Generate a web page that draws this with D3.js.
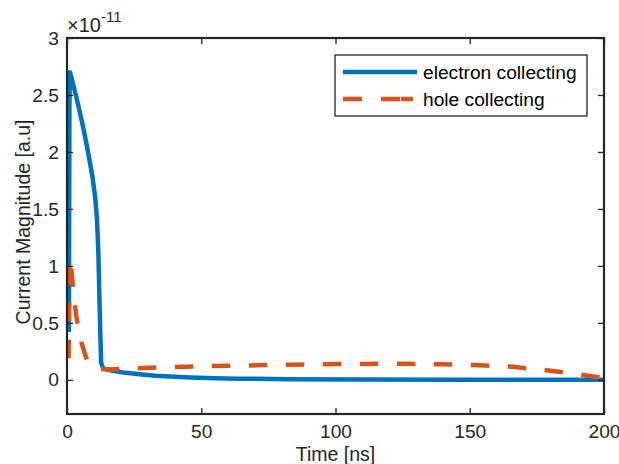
<!DOCTYPE html>
<html>
<head>
<meta charset="utf-8">
<script src="https://cdn.jsdelivr.net/npm/d3@7"></script>
<style>
  html, body { margin: 0; padding: 0; background: #fff; }
  svg { display: block; font-family: "Liberation Sans", Arial, Helvetica, sans-serif; }
</style>
</head>
<body>
<svg id="chart" width="619" height="464"></svg>
<script>
// Transient current (units of 1e-11 a.u.) versus time in ns
const electronTime = [0.7, 0.9, 1.1, 2, 4, 6, 8, 9.5, 10.5, 11.2, 11.7, 12.2, 12.7, 13.5, 17, 21, 27, 33, 40, 46, 55, 64, 83, 110, 150, 200];
const electronCurrent = [0.42, 2.4, 2.7, 2.62, 2.43, 2.22, 1.98, 1.78, 1.6, 1.4, 1.1, 0.6, 0.15, 0.1, 0.08, 0.064, 0.048, 0.035, 0.026, 0.02, 0.014, 0.01, 0.005, 0.002, 0.001, 0.0];

const holeTime = [0.6, 0.9, 1.3, 1.8, 2.5, 3.4, 4.5, 5.5, 6.5, 7.5, 8.5, 9.5, 12, 16, 24, 35, 52, 68, 82, 100, 115, 127, 140, 152, 166, 180, 190, 200];
const holeCurrent = [0.19, 1.0, 1.07, 0.92, 0.74, 0.57, 0.41, 0.32, 0.24, 0.17, 0.13, 0.11, 0.095, 0.09, 0.1, 0.11, 0.12, 0.126, 0.133, 0.138, 0.14, 0.14, 0.136, 0.13, 0.115, 0.08, 0.05, 0.015];

const seriesNames = ["electron collecting", "hole collecting"];
const xTicks = [0, 50, 100, 150, 200];
const yTicks = [0, 0.5, 1, 1.5, 2, 2.5, 3];
const xDomain = [0, 200];
const yDomain = [-0.3, 3];

const ink = "#262626";
const blue = "#0072BD";
const orange = "#D95319";

const svg = d3.select("#chart");
const L = 67, R = 604, T = 38, B = 414;

const x = d3.scaleLinear().domain(xDomain).range([L, R]);
const y = d3.scaleLinear().domain(yDomain).range([B, T]);

svg.append("defs").append("clipPath").attr("id", "plotArea")
  .append("rect").attr("x", L).attr("y", T).attr("width", R - L).attr("height", B - T);

// Curves
const line = d3.line().x(d => x(d[0])).y(d => y(d[1]));
const electron = electronTime.map((t, i) => [t, electronCurrent[i]]);
const hole = holeTime.map((t, i) => [t, holeCurrent[i]]);

const plot = svg.append("g").attr("clip-path", "url(#plotArea)");
plot.append("path").datum(electron)
  .attr("d", line).attr("fill", "none")
  .attr("stroke", blue).attr("stroke-width", 4.5)
  .attr("stroke-linejoin", "round");
plot.append("path").datum(hole)
  .attr("d", line).attr("fill", "none")
  .attr("stroke", orange).attr("stroke-width", 4.5)
  .attr("stroke-dasharray", "18.5,18.5")
  .attr("stroke-linejoin", "round");

// Axes with inward ticks on all four sides
function styleAxis(g) {
  g.select(".domain").remove();
  g.selectAll(".tick line").attr("stroke", ink).attr("stroke-width", 1.3);
  g.selectAll(".tick text").attr("fill", ink).attr("font-size", 19.2)
    .attr("font-family", "Liberation Sans, Arial, sans-serif");
}

svg.append("g").attr("transform", `translate(0,${B})`)
  .call(d3.axisBottom(x).tickValues(xTicks).tickFormat(d3.format("d"))
    .tickSizeInner(-6).tickSizeOuter(0).tickPadding(10))
  .call(styleAxis);
svg.append("g").attr("transform", `translate(0,${T})`)
  .call(d3.axisTop(x).tickValues(xTicks).tickFormat("")
    .tickSizeInner(-6).tickSizeOuter(0))
  .call(styleAxis);
svg.append("g").attr("transform", `translate(${L},0)`)
  .call(d3.axisLeft(y).tickValues(yTicks).tickFormat(d => String(d))
    .tickSizeInner(-6).tickSizeOuter(0).tickPadding(8))
  .call(styleAxis);
svg.append("g").attr("transform", `translate(${R},0)`)
  .call(d3.axisRight(y).tickValues(yTicks).tickFormat("")
    .tickSizeInner(-6).tickSizeOuter(0))
  .call(styleAxis);

// Axes box
svg.append("rect").attr("x", L).attr("y", T).attr("width", R - L).attr("height", B - T)
  .attr("fill", "none").attr("stroke", ink).attr("stroke-width", 2.2);

// Exponent multiplier
const expo = svg.append("text").attr("x", 67).attr("y", 32)
  .attr("fill", ink).attr("font-size", 20);
expo.append("tspan").text("×10");
expo.append("tspan").attr("font-size", 15).attr("dy", -10).text("-11");

// Axis titles
svg.append("text").attr("x", (L + R) / 2).attr("y", 461)
  .attr("text-anchor", "middle").attr("fill", ink).attr("font-size", 19.5)
  .text("Time [ns]");
svg.append("text")
  .attr("transform", `translate(30,${222}) rotate(-90)`)
  .attr("text-anchor", "middle").attr("fill", ink).attr("font-size", 19.5)
  .text("Current Magnitude [a.u]");

// Legend
const legend = svg.append("g");
legend.append("rect").attr("x", 335).attr("y", 55).attr("width", 252).attr("height", 61)
  .attr("fill", "#fff").attr("stroke", ink).attr("stroke-width", 1.3);
const legendStyles = [
  { color: blue, dash: null },
  { color: orange, dash: "19,19,19,1,12,100" }
];
seriesNames.forEach((name, i) => {
  const cy = 72 + i * 27;
  legend.append("line").attr("x1", 343).attr("x2", 417).attr("y1", cy).attr("y2", cy)
    .attr("stroke", legendStyles[i].color).attr("stroke-width", 4.5)
    .attr("stroke-dasharray", legendStyles[i].dash);
  legend.append("text").attr("x", 423).attr("y", cy + 7)
    .attr("fill", "#000").attr("font-size", 19.2).text(name);
});
</script>
</body>
</html>
